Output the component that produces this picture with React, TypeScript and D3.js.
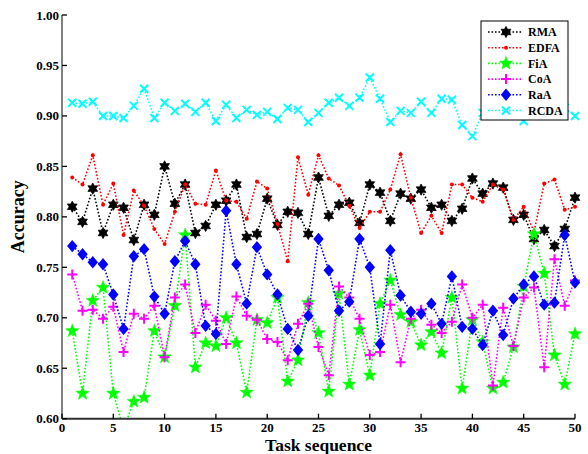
import React from "react";
import * as d3 from "d3";

const taskIndex = d3.range(1, 51);

const RMA = [0.810, 0.795, 0.828, 0.784, 0.812, 0.809, 0.777, 0.812, 0.802, 0.850,
  0.813, 0.832, 0.784, 0.791, 0.812, 0.816, 0.832, 0.780, 0.783, 0.818,
  0.792, 0.805, 0.804, 0.783, 0.839, 0.801, 0.812, 0.814, 0.794, 0.832,
  0.824, 0.796, 0.823, 0.818, 0.827, 0.809, 0.812, 0.796, 0.808, 0.838,
  0.823, 0.833, 0.829, 0.797, 0.802, 0.778, 0.787, 0.771, 0.788, 0.819];

const EDFA = [0.839, 0.832, 0.861, 0.812, 0.833, 0.782, 0.826, 0.811, 0.788, 0.773,
  0.805, 0.832, 0.813, 0.812, 0.846, 0.816, 0.815, 0.798, 0.835, 0.828,
  0.793, 0.756, 0.859, 0.822, 0.861, 0.838, 0.831, 0.811, 0.789, 0.805,
  0.805, 0.827, 0.862, 0.819, 0.784, 0.801, 0.784, 0.832, 0.832, 0.819,
  0.815, 0.832, 0.827, 0.797, 0.810, 0.785, 0.833, 0.837, 0.807, 0.810];

const FiA = [0.687, 0.625, 0.717, 0.730, 0.625, 0.590, 0.617, 0.621, 0.687, 0.661,
  0.712, 0.782, 0.651, 0.675, 0.672, 0.700, 0.675, 0.626, 0.698, 0.695,
  0.720, 0.637, 0.658, 0.715, 0.685, 0.627, 0.724, 0.634, 0.688, 0.643,
  0.714, 0.737, 0.703, 0.696, 0.673, 0.686, 0.665, 0.720, 0.630, 0.698,
  0.676, 0.630, 0.636, 0.671, 0.731, 0.783, 0.744, 0.663, 0.634, 0.684];

const CoA = [0.743, 0.707, 0.708, 0.699, 0.711, 0.666, 0.704, 0.699, 0.712, 0.661,
  0.720, 0.733, 0.685, 0.713, 0.697, 0.674, 0.721, 0.702, 0.698, 0.679,
  0.676, 0.658, 0.694, 0.714, 0.671, 0.643, 0.731, 0.720, 0.699, 0.663,
  0.666, 0.713, 0.656, 0.699, 0.708, 0.693, 0.685, 0.696, 0.733, 0.700,
  0.713, 0.633, 0.710, 0.672, 0.720, 0.730, 0.651, 0.758, 0.712, 0.737];

const RaA = [0.771, 0.763, 0.755, 0.753, 0.723, 0.689, 0.761, 0.768, 0.721, 0.704,
  0.756, 0.776, 0.753, 0.692, 0.684, 0.806, 0.753, 0.714, 0.770, 0.743,
  0.723, 0.689, 0.668, 0.702, 0.778, 0.747, 0.707, 0.716, 0.778, 0.750,
  0.674, 0.767, 0.722, 0.706, 0.704, 0.714, 0.694, 0.741, 0.691, 0.689,
  0.673, 0.707, 0.683, 0.719, 0.733, 0.741, 0.713, 0.715, 0.782, 0.735];

const RCDA = [0.913, 0.912, 0.914, 0.900, 0.900, 0.898, 0.910, 0.927, 0.898, 0.913,
  0.905, 0.912, 0.904, 0.913, 0.895, 0.911, 0.898, 0.906, 0.901, 0.904,
  0.897, 0.908, 0.906, 0.894, 0.903, 0.913, 0.918, 0.910, 0.918, 0.938,
  0.917, 0.894, 0.905, 0.903, 0.914, 0.903, 0.917, 0.916, 0.891, 0.880,
  0.903, 0.906, 0.910, 0.902, 0.895, 0.905, 0.910, 0.903, 0.908, 0.900];

const seriesNames = ["RMA", "EDFA", "FiA", "CoA", "RaA", "RCDA"];
const seriesValues = [RMA, EDFA, FiA, CoA, RaA, RCDA];
const seriesColors = ["#000000", "#ff0000", "#00ff00", "#ff00ff", "#0000ff", "#00ffff"];
const seriesMarkers = ["hexagram", "dot", "pentagram", "plus", "diamond", "cross"];

const xTicks = d3.range(0, 51, 5);
const yTicks = d3.range(0, 9).map((k) => 0.6 + k * 0.05);

const W = 588;
const H = 454;
const left = 62;
const right = 575;
const top = 15;
const bottom = 418.7;

function starPath(cx: number, cy: number, n: number, ro: number, ri: number) {
  const pts: string[] = [];
  for (let k = 0; k < 2 * n; k++) {
    const r = k % 2 === 0 ? ro : ri;
    const a = -Math.PI / 2 + (k * Math.PI) / n;
    pts.push(`${(cx + r * Math.cos(a)).toFixed(2)},${(cy + r * Math.sin(a)).toFixed(2)}`);
  }
  return "M" + pts.join("L") + "Z";
}

function Marker({ kind, cx, cy, color }: { kind: string; cx: number; cy: number; color: string }) {
  switch (kind) {
    case "hexagram":
      return <path d={starPath(cx, cy, 6, 5.6, 3.1)} fill={color} stroke={color} strokeWidth={0.8} />;
    case "dot":
      return <circle cx={cx} cy={cy} r={2} fill={color} />;
    case "pentagram":
      return <path d={starPath(cx, cy, 5, 7, 2.9)} fill={color} stroke={color} strokeWidth={0.5} />;
    case "plus":
      return (
        <path d={`M${cx - 5},${cy}H${cx + 5}M${cx},${cy - 5}V${cy + 5}`} stroke={color} strokeWidth={2} fill="none" />
      );
    case "diamond":
      return (
        <path d={`M${cx},${cy - 6.2}L${cx + 5.2},${cy}L${cx},${cy + 6.2}L${cx - 5.2},${cy}Z`} fill={color} />
      );
    case "cross":
      return (
        <path d={`M${cx - 4},${cy - 4}L${cx + 4},${cy + 4}M${cx - 4},${cy + 4}L${cx + 4},${cy - 4}`} stroke={color} strokeWidth={2} fill="none" />
      );
    default:
      return null;
  }
}

export default function App() {
  const x = d3.scaleLinear().domain([0, 50]).range([left, right]);
  const y = d3.scaleLinear().domain([0.6, 1.0]).range([bottom, top]);
  const line = d3
    .line<number>()
    .x((_, i) => x(taskIndex[i]))
    .y((d) => y(d));

  const font = "'Liberation Serif', 'Times New Roman', serif";
  const legendX = 481;
  const legendY = 21;
  const rowY = (k: number) => legendY + 11 + k * 15.7;

  return (
    <div style={{ position: "absolute", left: 0, top: 0, width: W, height: H, background: "#fff" }}>
      <svg width={W} height={H} style={{ display: "block" }} fontFamily={font}>
        <defs>
          <clipPath id="plotclip">
            <rect x={left - 10} y={top} width={right - left + 20} height={bottom - top} />
          </clipPath>
        </defs>
        <rect x={0} y={0} width={W} height={H} fill="#fff" />

        <g clipPath="url(#plotclip)">
          {seriesValues.map((vals, si) => (
            <g key={seriesNames[si]}>
              <path
                d={line(vals) || ""}
                fill="none"
                stroke={seriesColors[si]}
                strokeWidth={1.6}
                strokeDasharray="1.6 1.9"
              />
              {vals.map((v, i) => (
                <Marker key={i} kind={seriesMarkers[si]} cx={x(taskIndex[i])} cy={y(v)} color={seriesColors[si]} />
              ))}
            </g>
          ))}
        </g>

        {/* axes */}
        <line x1={left} x2={left} y1={top} y2={bottom} stroke="#808080" strokeWidth={2} />
        <line x1={left} x2={right} y1={bottom} y2={bottom} stroke="#303030" strokeWidth={2} />
        {yTicks.map((t) => (
          <g key={"y" + t}>
            <line x1={left} x2={left + 5} y1={y(t)} y2={y(t)} stroke="#000" strokeWidth={1.3} />
            <text x={left - 3} y={y(t)} dy="0.35em" textAnchor="end" fontSize={13} fontWeight="bold">
              {t.toFixed(2)}
            </text>
          </g>
        ))}
        {xTicks.map((t) => (
          <g key={"x" + t}>
            <line x1={x(t)} x2={x(t)} y1={bottom} y2={bottom - 5} stroke="#000" strokeWidth={1.3} />
            <text x={x(t)} y={432} textAnchor="middle" fontSize={13} fontWeight="bold">
              {t}
            </text>
          </g>
        ))}
        <text x={(left + right) / 2} y={451} textAnchor="middle" fontSize={17.5} fontWeight="bold">
          Task sequence
        </text>
        <text
          transform={`translate(24,${(top + bottom) / 2}) rotate(-90)`}
          textAnchor="middle"
          fontSize={18}
          fontWeight="bold"
        >
          Accuracy
        </text>

        {/* legend */}
        <rect x={legendX} y={legendY} width={87} height={99} fill="#fff" stroke="#000" strokeWidth={1} />
        {seriesNames.map((name, k) => (
          <g key={"leg" + name}>
            <line
              x1={488}
              x2={522}
              y1={rowY(k)}
              y2={rowY(k)}
              stroke={seriesColors[k]}
              strokeWidth={1.6}
              strokeDasharray="1.6 1.9"
            />
            <Marker kind={seriesMarkers[k]} cx={506} cy={rowY(k)} color={seriesColors[k]} />
            <text x={528} y={rowY(k)} dy="0.35em" fontSize={12} fontWeight="bold">
              {name}
            </text>
          </g>
        ))}
      </svg>
    </div>
  );
}
